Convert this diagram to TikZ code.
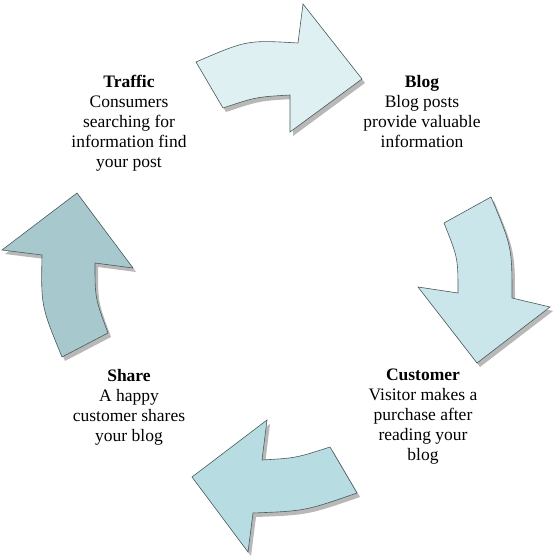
\documentclass[tikz,border=0pt]{standalone}
\usepackage{fontspec}
\setmainfont{Liberation Serif}
\definecolor{cTop}{HTML}{DEF0F2}
\definecolor{cRight}{HTML}{CBE6EA}
\definecolor{cBottom}{HTML}{B7DDE2}
\definecolor{cLine}{HTML}{4A5A5C}
\definecolor{cLeft}{HTML}{A7C9CD}
\definecolor{cShadow}{HTML}{B8B8B8}
\tikzset{
  bigarrow/.style={fill=#1, draw=cLine, line width=0.6bp, line join=miter,
    preaction={fill=cShadow, draw=none, transform canvas={xshift=3bp,yshift=-4bp}}},
  lbl/.style={align=center, inner sep=0pt, font=\rmfamily\fontsize{17.5bp}{20bp}\selectfont}
}
\begin{document}
\begin{tikzpicture}[x=1bp,y=-1bp]
\useasboundingbox (0,0) rectangle (559,559);
% top arrow
\path[bigarrow=cTop] (196,62) .. controls (247,40) .. (298,43) -- (303,4) -- (362,79) -- (290,132) -- (290,95) .. controls (256,97) .. (223,108) -- cycle;
% right arrow
\path[bigarrow=cRight] (444,223) -- (491,197) .. controls (512,247) .. (512,298) -- (550,307) -- (477,363) -- (418,287) -- (458,293) .. controls (458,258) .. (444,223) -- cycle;
% bottom arrow
\path[bigarrow=cBottom] (330,447) -- (357,493) .. controls (305,511) .. (253,513) -- (248,552) -- (192,477) -- (267,420) -- (262,460) .. controls (296,458) .. (330,447) -- cycle;
% left arrow
\path[bigarrow=cLeft] (62,357) -- (108,333) .. controls (95,298) .. (95,263) -- (133,268) -- (77,193) -- (2,250) -- (42,255) .. controls (41,306) .. (62,357) -- cycle;
% labels
\node[lbl] (traffic) at (129,123) {\textbf{Traffic}\\Consumers\\searching for\\information find\\your post};
\node[lbl] (blog) at (422,112) {\textbf{Blog}\\Blog posts\\provide valuable\\information};
\node[lbl] (customer) at (423,417) {\textbf{Customer}\\Visitor makes a\\purchase after\\reading your\\blog};
\node[lbl] (share) at (129,407) {\textbf{Share}\\A happy\\customer shares\\your blog};
\end{tikzpicture}
\end{document}
